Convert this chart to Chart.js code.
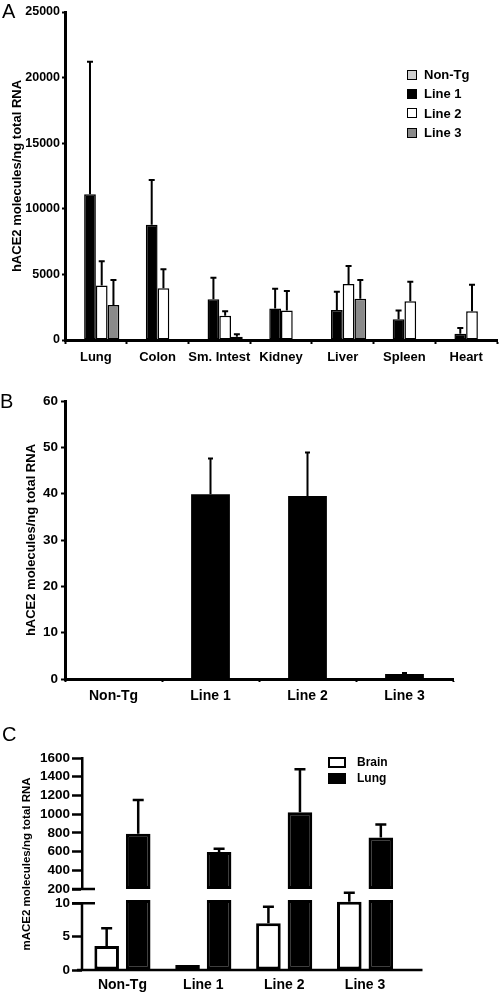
<!DOCTYPE html>
<html>
<head>
<meta charset="utf-8">
<script src="https://cdn.jsdelivr.net/npm/chart.js@4.4.1/dist/chart.umd.min.js"></script>
<style>
  body { margin: 0; background: #fff; font-family: "Liberation Sans", Arial, sans-serif; color: #000; }
  #fig { position: relative; width: 500px; height: 992px; overflow: hidden; }
  .panel { position: absolute; left: 0; width: 500px; }
  .letter { position: absolute; font-size: 20px; line-height: 1; }
  .legend { position: absolute; font-weight: bold; }
  .legend .row { display: flex; align-items: center; white-space: nowrap; }
  .legend .swatch { box-sizing: border-box; border-style: solid; border-color: #000; display: inline-block; }
</style>
</head>
<body>
<div id="fig">
  <div class="panel" style="top:0;height:375px"><canvas id="chartA"></canvas></div>
  <div class="panel" style="top:390px;height:320px"><canvas id="chartB"></canvas></div>
  <div class="panel" style="top:720px;height:272px"><canvas id="chartC"></canvas></div>
  <div class="letter" style="left:2px;top:1px">A</div>
  <div class="letter" style="left:0px;top:391px">B</div>
  <div class="letter" style="left:2px;top:724px">C</div>
  <div class="legend" id="legendA" style="left:407px;top:65px;font-size:13px"></div>
  <div class="legend" id="legendC" style="left:328px;top:754px;font-size:12px"></div>
</div>
<script>
// A: hACE2 in tissues of the three transgenic lines
const tissues = ['Lung', 'Colon', 'Sm. Intest', 'Kidney', 'Liver', 'Spleen', 'Heart'];
const nonTgTissue = [0, 0, 0, 0, 0, 0, 0];
const line1Tissue = [11100, 8780, 3100, 2400, 2290, 1580, 480];
const line1TissueErr = [10100, 3420, 1650, 1500, 1390, 660, 430];
const line2Tissue = [4150, 3940, 1850, 2240, 4270, 2950, 2190];
const line2TissueErr = [1850, 1450, 350, 1500, 1370, 1490, 2020];
const line3Tissue = [2670, 0, 250, 0, 3150, 0, 0];
const line3TissueErr = [1900, 0, 180, 0, 1420, 0, 0];
const tissueTicks = [0, 5000, 10000, 15000, 20000, 25000];

// B: hACE2 per line
const mouseLines = ['Non-Tg', 'Line 1', 'Line 2', 'Line 3'];
const hace2Line = [0, 39.9, 39.5, 1.1];
const hace2LineErr = [0, 7.7, 9.4, 0.2];
const lineTicks = [0, 10, 20, 30, 40, 50, 60];

// C: mACE2, brain vs lung (broken axis)
const brainMace2 = [3.6, 0.75, 7.0, 10.25];
const brainMace2Err = [2.65, 0, 2.5, 1.35];
const lungMace2 = [790, 595, 1020, 750];
const lungMace2Err = [360, 35, 460, 140];
const lowTicks = [0, 5, 10];
const highTicks = [200, 400, 600, 800, 1000, 1200, 1400, 1600];

const FONT = '"Liberation Sans", Arial, sans-serif';
Chart.defaults.font.family = FONT;
Chart.defaults.color = '#000';

const errorBars = {
  id: 'errorBars',
  afterDatasetsDraw(chart, args, opts) {
    const ctx = chart.ctx;
    ctx.save();
    ctx.strokeStyle = '#000';
    ctx.lineWidth = opts.lineWidth;
    chart.data.datasets.forEach((ds, i) => {
      if (!ds.errors) return;
      const meta = chart.getDatasetMeta(i);
      const yScale = chart.scales[meta.yAxisID];
      meta.data.forEach((bar, j) => {
        const err = ds.errors[j];
        if (!err) return;
        const raw = ds.data[j];
        const top = Array.isArray(raw) ? raw[1] : raw;
        const yErr = yScale.getPixelForValue(top + err);
        ctx.beginPath();
        ctx.moveTo(bar.x, bar.y);
        ctx.lineTo(bar.x, yErr);
        ctx.moveTo(bar.x - opts.capWidth / 2, yErr);
        ctx.lineTo(bar.x + opts.capWidth / 2, yErr);
        ctx.stroke();
      });
    });
    ctx.restore();
  }
};

// lower axis segment, break marks, extended x axis and the y title for panel C
const brokenAxis = {
  id: 'brokenAxis',
  afterDraw(chart, args, opts) {
    const { ctx, chartArea } = chart;
    const low = chart.scales.yLow, high = chart.scales.yTop;
    const x0 = chartArea.left;
    const yLowBreak = low.getPixelForValue(opts.lowBreak);
    const yHighBreak = high.getPixelForValue(opts.highBreak);
    ctx.save();
    ctx.strokeStyle = '#000';
    ctx.lineWidth = 2.5;
    ctx.beginPath();
    ctx.moveTo(x0, yLowBreak);
    ctx.lineTo(x0, chartArea.bottom);
    [yLowBreak, yHighBreak].forEach(y => {
      ctx.moveTo(x0 - 10, y);
      ctx.lineTo(x0 + 13, y);
    });
    ctx.moveTo(x0 - 5, chartArea.bottom);
    ctx.lineTo(chartArea.right + 17, chartArea.bottom);
    ctx.stroke();

    ctx.translate(opts.titleX, (chartArea.top + chartArea.bottom) / 2);
    ctx.rotate(-Math.PI / 2);
    ctx.font = 'bold 11.5px ' + FONT;
    ctx.fillStyle = '#000';
    ctx.textAlign = 'center';
    ctx.textBaseline = 'middle';
    ctx.fillText(opts.title, 0, 0);
    ctx.restore();
  }
};

function buildLegend(id, datasets, box) {
  const el = document.getElementById(id);
  datasets.forEach(ds => {
    const row = document.createElement('div');
    row.className = 'row';
    row.style.height = box.row + 'px';
    const sw = document.createElement('span');
    sw.className = 'swatch';
    sw.style.width = box.w + 'px';
    sw.style.height = box.h + 'px';
    sw.style.borderWidth = box.border + 'px';
    sw.style.background = ds.backgroundColor;
    sw.style.marginRight = box.gap + 'px';
    const tx = document.createElement('span');
    tx.textContent = ds.label;
    row.append(sw, tx);
    el.append(row);
  });
}

const tickFont = size => ({ size: size, weight: 'bold', family: FONT });
const plain = v => String(v);

// ---------- A ----------
const dataA = [
  { label: 'Non-Tg', data: nonTgTissue, backgroundColor: '#d0d0d0' },
  { label: 'Line 1', data: line1Tissue, errors: line1TissueErr, backgroundColor: '#000000' },
  { label: 'Line 2', data: line2Tissue, errors: line2TissueErr, backgroundColor: '#ffffff' },
  { label: 'Line 3', data: line3Tissue, errors: line3TissueErr, backgroundColor: '#8a8a8a' }
];
new Chart(document.getElementById('chartA'), {
  type: 'bar',
  data: { labels: tissues, datasets: dataA },
  options: {
    responsive: true,
    maintainAspectRatio: false,
    animation: false,
    layout: { padding: { top: 12, right: 3, left: 0, bottom: 0 } },
    datasets: { bar: { borderColor: '#000', borderWidth: 1.5, borderSkipped: false, inflateAmount: 0,
      categoryPercentage: 0.76, barPercentage: 1 } },
    plugins: { legend: { display: false }, tooltip: { enabled: false },
      errorBars: { capWidth: 6, lineWidth: 2 } },
    scales: {
      x: {
        grid: { drawOnChartArea: false, tickLength: 4, tickColor: '#000', tickWidth: 2 },
        border: { color: '#000', width: 3 },
        ticks: { font: tickFont(13), padding: 6, maxRotation: 0, autoSkip: false },
        afterFit: s => { s.height = 35; }
      },
      y: {
        min: 0, max: 25000,
        afterBuildTicks: s => { s.ticks = tissueTicks.map(v => ({ value: v })); },
        grid: { drawOnChartArea: false, tickLength: 3, tickColor: '#000', tickWidth: 2 },
        border: { color: '#000', width: 3 },
        ticks: { font: tickFont(12.5), padding: 2, autoSkip: false, callback: plain },
        title: { display: true, text: 'hACE2 molecules/ng total RNA', font: tickFont(13), padding: { top: 10 } },
        afterFit: s => { s.width = 65; }
      }
    }
  },
  plugins: [errorBars]
});
buildLegend('legendA', dataA, { w: 10, h: 10, border: 1.5, gap: 7, row: 19.3 });

// ---------- B ----------
new Chart(document.getElementById('chartB'), {
  type: 'bar',
  data: {
    labels: mouseLines,
    datasets: [{ label: 'hACE2', data: hace2Line, errors: hace2LineErr, backgroundColor: '#000' }]
  },
  options: {
    responsive: true,
    maintainAspectRatio: false,
    animation: false,
    layout: { padding: { top: 11, right: 47, left: 0, bottom: 0 } },
    datasets: { bar: { categoryPercentage: 0.4, barPercentage: 1, inflateAmount: 0 } },
    plugins: { legend: { display: false }, tooltip: { enabled: false },
      errorBars: { capWidth: 5, lineWidth: 2 } },
    scales: {
      x: {
        grid: { drawOnChartArea: false, tickLength: 3, tickColor: '#000', tickWidth: 2 },
        border: { color: '#000', width: 3 },
        ticks: { font: tickFont(14), padding: 6, maxRotation: 0, autoSkip: false },
        afterFit: s => { s.height = 31; }
      },
      y: {
        min: 0, max: 60,
        afterBuildTicks: s => { s.ticks = lineTicks.map(v => ({ value: v })); },
        grid: { drawOnChartArea: false, tickLength: 4, tickColor: '#000', tickWidth: 2 },
        border: { color: '#000', width: 3 },
        ticks: { font: tickFont(13.5), padding: 3, autoSkip: false, callback: plain },
        title: { display: true, text: 'hACE2 molecules/ng total RNA', font: tickFont(13), padding: { top: 24 } },
        afterFit: s => { s.width = 65; }
      }
    }
  },
  plugins: [errorBars]
});

// ---------- C ----------
const lowBreak = lowTicks[lowTicks.length - 1];
const highBreak = highTicks[0];
const dataC = [
  { label: 'Brain', data: brainMace2, errors: brainMace2Err, backgroundColor: '#ffffff',
    yAxisID: 'yLow', stack: 'brain' },
  { label: 'Lung', data: lungMace2.map(v => Math.min(v, lowBreak + 0.5)), backgroundColor: '#000000',
    yAxisID: 'yLow', stack: 'lung' },
  { label: 'Lung', data: lungMace2.map(v => [highBreak, v]), errors: lungMace2Err, backgroundColor: '#000000',
    yAxisID: 'yTop', stack: 'lung' }
];
const yC = {
  type: 'linear', position: 'left', stack: 'c', stacked: false,
  grid: { drawOnChartArea: false, tickLength: 10, tickColor: '#000', tickWidth: 2.5 },
  ticks: { font: tickFont(13.5), padding: 2, autoSkip: false, callback: plain },
  afterFit: s => { s.width = 82; }
};
new Chart(document.getElementById('chartC'), {
  type: 'bar',
  data: { labels: mouseLines, datasets: dataC },
  options: {
    responsive: true,
    maintainAspectRatio: false,
    animation: false,
    layout: { padding: { top: 38, right: 94.5, left: 0, bottom: 0 } },
    datasets: { bar: { borderColor: '#000', borderWidth: 3, borderSkipped: false, inflateAmount: 0,
      categoryPercentage: 0.78, barPercentage: 0.78 } },
    plugins: { legend: { display: false }, tooltip: { enabled: false },
      errorBars: { capWidth: 11, lineWidth: 2.5 },
      brokenAxis: { lowBreak: lowBreak, highBreak: highBreak, titleX: 27,
        title: 'mACE2 molecules/ng total RNA' } },
    scales: {
      x: {
        stacked: true,
        grid: { display: false, drawTicks: false },
        border: { display: false },
        ticks: { font: tickFont(14), padding: 7, maxRotation: 0, autoSkip: false },
        afterFit: s => { s.height = 22; }
      },
      yLow: Object.assign({}, yC, {
        stackWeight: 81, weight: 0, min: 0, max: 12.15,
        afterBuildTicks: s => { s.ticks = lowTicks.map(v => ({ value: v })); },
        border: { display: false }
      }),
      yTop: Object.assign({}, yC, {
        stackWeight: 131, weight: 1, min: highBreak, max: highTicks[highTicks.length - 1],
        afterBuildTicks: s => { s.ticks = highTicks.map(v => ({ value: v })); },
        border: { display: true, color: '#000', width: 2.5 }
      })
    }
  },
  plugins: [errorBars, brokenAxis]
});
buildLegend('legendC', dataC.slice(0, 2), { w: 18, h: 11, border: 2.5, gap: 11, row: 16 });
</script>
</body>
</html>
